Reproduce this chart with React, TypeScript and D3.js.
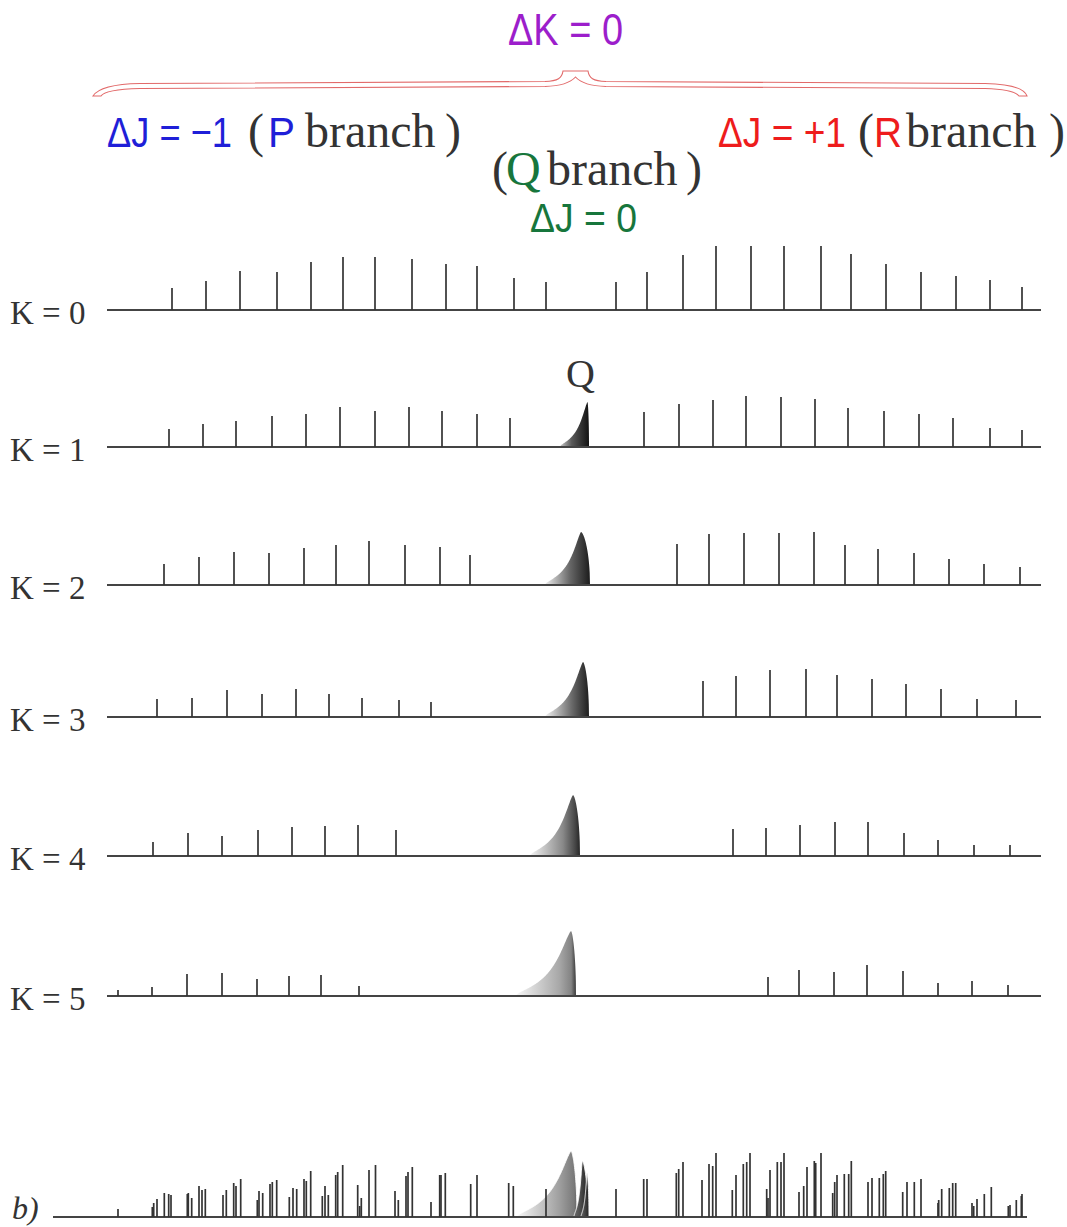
import React, { useLayoutEffect, useRef, useState } from 'react';
import * as d3 from 'd3';

// Rotational lines of each K sub-band: positions are offsets from the band
// origin (arbitrary wavenumber units), intensities in arbitrary units.
const k0P = [-403, -369, -335, -298, -264, -232, -200, -163, -129, -98, -61, -29];
const k0PI = [22, 29, 39, 38, 48, 53, 53, 51, 46, 44, 32, 28];
const k0R = [41, 72, 108, 141, 176, 209, 246, 276, 311, 346, 381, 415, 447];
const k0RI = [28, 38, 55, 64, 64, 64, 64, 56, 46, 38, 34, 30, 23];

const k1P = [-406, -372, -339, -303, -269, -235, -200, -166, -133, -98, -65];
const k1PI = [18, 23, 26, 31, 33, 40, 36, 40, 36, 33, 29];
const k1R = [69, 104, 138, 171, 206, 240, 273, 309, 344, 378, 415, 447];
const k1RI = [35, 43, 47, 51, 50, 48, 39, 36, 33, 29, 19, 17];

const k2P = [-411, -376, -341, -306, -271, -239, -206, -170, -135, -105];
const k2PI = [21, 28, 33, 32, 37, 40, 44, 40, 38, 30];
const k2R = [102, 134, 169, 204, 239, 270, 303, 339, 374, 409, 445];
const k2RI = [41, 51, 52, 52, 53, 40, 36, 32, 26, 21, 18];

const k3P = [-418, -383, -348, -313, -279, -246, -213, -176, -144];
const k3PI = [18, 19, 27, 23, 28, 23, 19, 17, 15];
const k3R = [128, 161, 195, 231, 262, 297, 331, 366, 402, 441];
const k3RI = [36, 41, 47, 48, 42, 38, 33, 28, 18, 17];

const k4P = [-422, -387, -353, -317, -283, -250, -217, -179];
const k4PI = [14, 23, 20, 26, 29, 30, 31, 26];
const k4R = [158, 191, 225, 260, 293, 329, 363, 399, 435];
const k4RI = [27, 28, 31, 34, 34, 23, 16, 11, 11];

const k5P = [-457, -423, -388, -353, -318, -286, -254, -216];
const k5PI = [6, 9, 22, 23, 17, 20, 21, 10];
const k5R = [193, 224, 259, 292, 328, 363, 397, 433];
const k5RI = [19, 26, 24, 31, 25, 13, 15, 11];

const kLabels = ['K = 0', 'K = 1', 'K = 2', 'K = 3', 'K = 4', 'K = 5'];

// Q-branch envelopes for K = 1..5: start, peak, end offsets and peak intensity
const qStart = [-15, -30, -30, -45, -59];
const qPeak = [12.5, 6, 8, -2, -4];
const qEnd = [14, 15, 14, 5, 1];
const qHeight = [45, 53, 55, 61, 65];

// Summed spectrum b): individual lines and the overlapping Q envelopes
const sumPos = [
  -457, -422.7, -421.3, -418, -410.7, -406.3, -404, -387.7, -386.7, -383.3, -376, -373, -369.7,
  -352, -348.7, -341.3, -339, -334.3, -317.7, -316, -312.3, -305, -302.7, -298.3, -285.7, -282,
  -278.3, -271, -268.7, -264.3, -252.7, -250, -246.7, -239.3, -237.3, -232.3, -217.3, -215.3,
  -213.7, -206, -199.5, -180, -176.7, -169, -167, -162.7, -144, -135.3, -134, -129.7, -104.3, -98,
  -66.3, -61.7, -29, 41, 68.7, 72, 101.3, 103.7, 108, 127, 134, 137.7, 141, 157.3, 161, 168.3,
  171.7, 175, 191.7, 193, 195, 202.3, 206, 209, 224, 228.7, 232, 239.3, 240.7, 246, 257.7, 259.7,
  262, 269.3, 273.7, 276.3, 293, 297, 304.3, 308.3, 310.7, 327.7, 332, 339.3, 346, 363, 363.7,
  366.7, 374.3, 377.7, 380.7, 397, 398.7, 402, 409.3, 416.3, 433.3, 435, 441.3, 446.3, 447,
];
const sumInt = [
  8, 10, 14, 18, 24, 23, 22, 23, 24, 19, 31, 27, 28,
  22, 27, 34, 31, 38, 17, 26, 24, 33, 35, 37, 20, 29,
  28, 38, 36, 46, 21, 31, 22, 42, 45, 52, 32, 11,
  19, 47, 52, 26, 17, 41, 45, 50, 15, 42, 42, 44, 33, 42,
  34, 31, 28, 28, 38, 38, 44, 48, 55, 37, 53, 51, 64, 27, 42, 53,
  55, 64, 28, 19, 47, 55, 55, 64, 25, 31, 50, 56, 54, 64, 24, 35,
  42, 43, 43, 56, 35, 39, 39, 43, 46, 25, 35, 35, 38, 14, 17,
  28, 29, 34, 34, 14, 11, 18, 23, 30, 11, 12, 17, 21, 23,
];
const sumQStart = [-58, -1, 6];
const sumQPeak = [-4, 7.3, 12];
const sumQEnd = [2, 13, 14];
const sumQHeight = [66, 56, 44];

// Layout
const W = 1067;
const H = 1227;
const rowBase = [310, 447, 585, 717, 856, 996];
const sumBase = 1217;
const ink = '#333333';
const blue = '#1f1fd8';
const red = '#ee1c1c';
const green = '#17763c';
const purple = '#9c1ecb';
const serif = '"Liberation Serif", "DejaVu Serif", serif';
const mathFont = '"Liberation Sans", "DejaVu Sans", sans-serif';

const xScale = d3.scaleLinear().domain([-470, 470]).range([105, 1045]);

// Asymmetric band envelope: slow rise to the peak, steep fall after it
function envelope(start: number, peak: number, end: number, height: number): [number, number][] {
  const pts: [number, number][] = [];
  const n = 90;
  for (let i = 0; i <= n; i++) {
    const t = i / n;
    const u = start + t * (peak - start);
    const d = 1 - t;
    const v = (height * Math.sqrt(1 - d)) / (1 + Math.pow(d / 0.38, 1.5));
    pts.push([u, v]);
  }
  const m = 30;
  for (let i = 1; i <= m; i++) {
    const s = i / m;
    pts.push([peak + s * (end - peak), height * Math.sqrt(Math.max(0, 1 - Math.pow(s, 1.6)))]);
  }
  return pts;
}

const rowGrad: [number, string][][] = [
  [[0, '#c8c8c8'], [0.4, '#5a5a5a'], [1, '#121212']],
  [[0, '#eeeeee'], [0.55, '#686868'], [1, '#1c1c1c']],
  [[0, '#f2f2f2'], [0.6, '#6c6c6c'], [1, '#1e1e1e']],
  [[0, '#f4f4f4'], [0.66, '#888888'], [0.9, '#474747'], [1, '#262626']],
  [[0, '#f7f7f7'], [0.72, '#a8a8a8'], [0.92, '#838383'], [1, '#3a3a3a']],
];
const sumGrad: [number, string][][] = [
  [[0, '#f7f7f7'], [0.7, '#a0a0a0'], [0.95, '#7a7a7a'], [1, '#666666']],
  [[0, '#6a6a6a'], [0.5, '#4a4a4a'], [1, '#1e1e1e']],
  [[0, '#666666'], [1, '#222222']],
];

// Condensed math text: measured at its natural width, then squeezed horizontally
function MathText({ x, y, width, fill, size = 43, children }: {
  x: number; y: number; width: number; fill: string; size?: number; children: string;
}) {
  const ref = useRef<SVGTextElement>(null);
  const [sx, setSx] = useState(0.82);
  useLayoutEffect(() => {
    const el = ref.current;
    if (el) {
      const w = el.getComputedTextLength();
      if (w > 0) setSx(width / w);
    }
  }, [width, children]);
  return (
    <text
      ref={ref}
      transform={`translate(${x},${y}) scale(${sx},1)`}
      fontFamily={mathFont}
      fontSize={size}
      fill={fill}
    >
      {children}
    </text>
  );
}

function SerifText({ x, y, fill = ink, size = 48, children }: {
  x: number; y: number; fill?: string; size?: number; children: string;
}) {
  return (
    <text x={x} y={y} fontFamily={serif} fontSize={size} fill={fill}>
      {children}
    </text>
  );
}

function Lines({ pos, ints, y }: { pos: number[]; ints: number[]; y: d3.ScaleLinear<number, number> }) {
  return (
    <g stroke={ink} strokeWidth={1.7}>
      {pos.map((p, i) => (
        <line key={i} x1={xScale(p)} x2={xScale(p)} y1={y(0)} y2={y(ints[i])} />
      ))}
    </g>
  );
}

function Band({ id, start, peak, end, height, y, stops, outline }: {
  id: string; start: number; peak: number; end: number; height: number;
  y: d3.ScaleLinear<number, number>; stops: [number, string][]; outline?: boolean;
}) {
  const area = d3
    .area<[number, number]>()
    .x((d) => xScale(d[0]))
    .y0(y(0))
    .y1((d) => y(d[1]));
  return (
    <g>
      <defs>
        <linearGradient id={id} gradientUnits="userSpaceOnUse" x1={xScale(start)} x2={xScale(end)} y1={0} y2={0}>
          {stops.map(([o, c], i) => (
            <stop key={i} offset={o} stopColor={c} />
          ))}
        </linearGradient>
      </defs>
      <path
        d={area(envelope(start, peak, end, height)) || ''}
        fill={`url(#${id})`}
        stroke={outline ? '#ffffff' : 'none'}
        strokeWidth={outline ? 0.9 : 0}
      />
    </g>
  );
}

const rowLines = [
  [k0P, k0PI, k0R, k0RI],
  [k1P, k1PI, k1R, k1RI],
  [k2P, k2PI, k2R, k2RI],
  [k3P, k3PI, k3R, k3RI],
  [k4P, k4PI, k4R, k4RI],
  [k5P, k5PI, k5R, k5RI],
];

const bracePath =
  'M 93 96 C 98 88, 115 84, 140 83.5 L 545 81.5 C 558 81, 562 78, 563 71 L 588 71 ' +
  'C 589 78, 593 81, 606 81.5 L 985 83.5 C 1010 84, 1024 88, 1027 96 L 1019 96 ' +
  'C 1015 91, 1003 89, 985 88.5 L 606 86.5 C 590 86, 580 82, 575.5 77 ' +
  'C 571 82, 561 86, 545 86.5 L 140 88.5 C 122 89, 104 91, 101 96 Z';

export default function App() {
  const sumY = d3.scaleLinear().domain([0, 70]).range([sumBase, sumBase - 70]);
  return (
    <div style={{ position: 'absolute', left: 0, top: 0 }}>
      <svg width={W} height={H} style={{ display: 'block', background: '#ffffff' }}>
        {/* Selection-rule header */}
        <MathText x={508} y={45} width={115} fill={purple} size={44}>ΔK = 0</MathText>
        <path d={bracePath} fill="#ffffff" stroke="#e26a6a" strokeWidth={1.1} />

        <MathText x={107} y={147} width={125} fill={blue}>ΔJ = −1</MathText>
        <SerifText x={248} y={147}>(</SerifText>
        <MathText x={268} y={147} width={27} fill={blue}>P</MathText>
        <SerifText x={305} y={147}>branch</SerifText>
        <SerifText x={445} y={147}>)</SerifText>

        <MathText x={874} y={147} width={28} fill={red}>R</MathText>
        <MathText x={718} y={147} width={128} fill={red}>ΔJ = +1</MathText>
        <SerifText x={858} y={147}>(</SerifText>
        <SerifText x={906} y={147}>branch</SerifText>
        <SerifText x={1049} y={147}>)</SerifText>

        <SerifText x={492} y={185}>(</SerifText>
        <SerifText x={506} y={185} fill={green}>Q</SerifText>
        <SerifText x={547} y={185}>branch</SerifText>
        <SerifText x={686} y={185}>)</SerifText>
        <MathText x={530} y={232} width={107} fill={green} size={41}>ΔJ = 0</MathText>

        {/* Sub-bands K = 0 .. 5 */}
        {rowBase.map((base, k) => {
          const y = d3.scaleLinear().domain([0, 70]).range([base, base - 70]);
          const [pP, pI, rP, rI] = rowLines[k];
          return (
            <g key={k}>
              <text x={10} y={base + 14} fontFamily={serif} fontSize={33} fill={ink}>
                {kLabels[k]}
              </text>
              {k > 0 && (
                <Band
                  id={`qband${k}`}
                  start={qStart[k - 1]}
                  peak={qPeak[k - 1]}
                  end={qEnd[k - 1]}
                  height={qHeight[k - 1]}
                  y={y}
                  stops={rowGrad[k - 1]}
                />
              )}
              <line x1={107} x2={1041} y1={base} y2={base} stroke="#444444" strokeWidth={2} />
              <Lines pos={pP} ints={pI} y={y} />
              <Lines pos={rP} ints={rI} y={y} />
            </g>
          );
        })}
        <text x={566} y={387} fontFamily={serif} fontSize={40} fill={ink}>
          Q
        </text>

        {/* Summed spectrum */}
        <text x={12} y={1219} fontFamily={serif} fontStyle="italic" fontSize={32} fill={ink}>
          b)
        </text>
        {sumQStart.map((s, i) => (
          <Band
            key={i}
            id={`sumband${i}`}
            start={s}
            peak={sumQPeak[i]}
            end={sumQEnd[i]}
            height={sumQHeight[i]}
            y={sumY}
            stops={sumGrad[i]}
            outline
          />
        ))}
        <line x1={53} x2={1027} y1={sumBase} y2={sumBase} stroke="#444444" strokeWidth={2} />
        <Lines pos={sumPos} ints={sumInt} y={sumY} />
      </svg>
    </div>
  );
}
